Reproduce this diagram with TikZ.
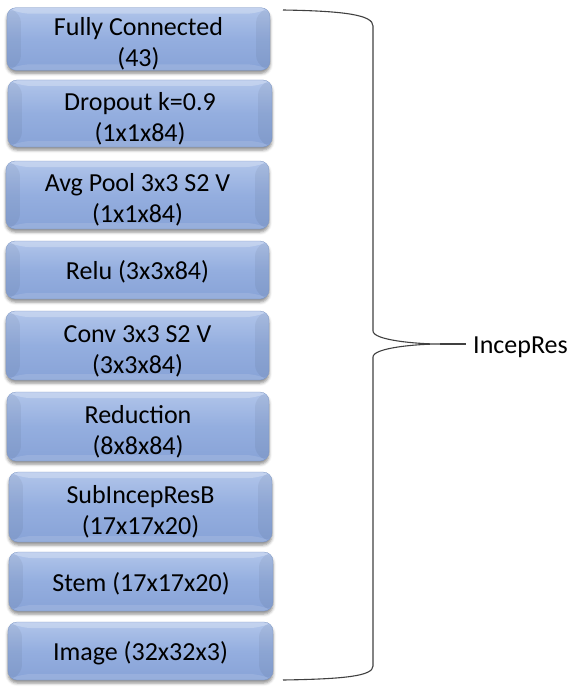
\documentclass[tikz,border=0pt]{standalone}
\usepackage{fontspec}
\setmainfont{Carlito}
\usetikzlibrary{shadows.blur}
\definecolor{boxtop}{HTML}{B1C5EA}
\definecolor{boxmid}{HTML}{94AEDF}
\definecolor{boxbot}{HTML}{88A3D7}
\definecolor{bracec}{HTML}{404040}
\newcommand{\toptwo}{\rule{0pt}{28bp}}
\newcommand{\topone}{\rule{0pt}{23bp}}
\tikzset{
  blk/.style={rounded corners=9bp, draw=boxbot!90!black, line width=0.3bp,
    top color=boxtop, bottom color=boxbot, middle color=boxmid,
    align=center, inner sep=0pt,
    font=\fontsize{26bp}{31bp}\selectfont,
    blur shadow={shadow xshift=0bp, shadow yshift=-3bp, shadow blur radius=3bp, shadow opacity=45},
    path picture={
      \fill[white,opacity=0.25] (path picture bounding box.north west) -- (path picture bounding box.north east)
        -- ([xshift=-14bp,yshift=-6bp]path picture bounding box.north east)
        -- ([xshift=14bp,yshift=-6bp]path picture bounding box.north west) -- cycle;
      \fill[black,opacity=0.05] (path picture bounding box.north west)
        -- ([xshift=14bp,yshift=-6bp]path picture bounding box.north west)
        -- ([xshift=14bp,yshift=6bp]path picture bounding box.south west)
        -- (path picture bounding box.south west) -- cycle;
      \fill[black,opacity=0.05] (path picture bounding box.north east)
        -- ([xshift=-14bp,yshift=-6bp]path picture bounding box.north east)
        -- ([xshift=-14bp,yshift=6bp]path picture bounding box.south east)
        -- (path picture bounding box.south east) -- cycle;
      \fill[white,opacity=0.12] (path picture bounding box.south west)
        -- ([xshift=14bp,yshift=6bp]path picture bounding box.south west)
        -- ([xshift=-14bp,yshift=6bp]path picture bounding box.south east)
        -- (path picture bounding box.south east) -- cycle;
    }},
  bracel/.style={draw=bracec, line width=1.1bp},
  lbl/.style={font=\fontsize{26bp}{29bp}\selectfont, anchor=west, inner sep=0pt}
}
\begin{document}
\begin{tikzpicture}[x=1bp,y=-1bp]
\useasboundingbox (0,0) rectangle (576,691);
\node[blk, minimum width=263bp, minimum height=58bp] (fc)   at (138.5,39)   {\toptwo Fully Connected\\(43)};
\node[blk, minimum width=264bp, minimum height=67bp] (drop) at (140,113.5)  {\toptwo Dropout k=0.9\\(1x1x84)};
\node[blk, minimum width=263bp, minimum height=68bp] (avg)  at (137.5,195)  {\toptwo Avg Pool 3x3 S2 V\\(1x1x84)};
\node[blk, minimum width=263bp, minimum height=58bp] (relu) at (137.5,270)  {\topone Relu (3x3x84)};
\node[blk, minimum width=263bp, minimum height=69bp] (conv) at (137.5,345.5){\toptwo Conv 3x3 S2 V\\(3x3x84)};
\node[blk, minimum width=262bp, minimum height=69bp] (red)  at (138,426.5)  {\toptwo Reduction\\(8x8x84)};
\node[blk, minimum width=263bp, minimum height=70bp] (sub)  at (140.5,507)  {\toptwo SubIncepResB\\(17x17x20)};
\node[blk, minimum width=264bp, minimum height=59bp] (stem) at (141,581.5)  {\topone Stem (17x17x20)};
\node[blk, minimum width=265bp, minimum height=58bp] (img)  at (140.5,651)  {\topone Image (32x32x3)};
\coordinate (btop) at (283,10);
\coordinate (bbot) at (283,680);
\coordinate (bmid) at (440,344);
\coordinate (btip) at (466,344);
\node[lbl] (inc) at (473,347) {IncepRes};
\draw[bracel] (btop) .. controls (345,11) and (373,15) .. (373,26) -- (373,331)
  .. controls (373,340) and (415,344) .. (bmid)
  .. controls (415,344) and (373,348) .. (373,357) -- (373,666)
  .. controls (373,676) and (345,679) .. (bbot);
\draw[bracel] (bmid) -- (btip);
\end{tikzpicture}
\end{document}
